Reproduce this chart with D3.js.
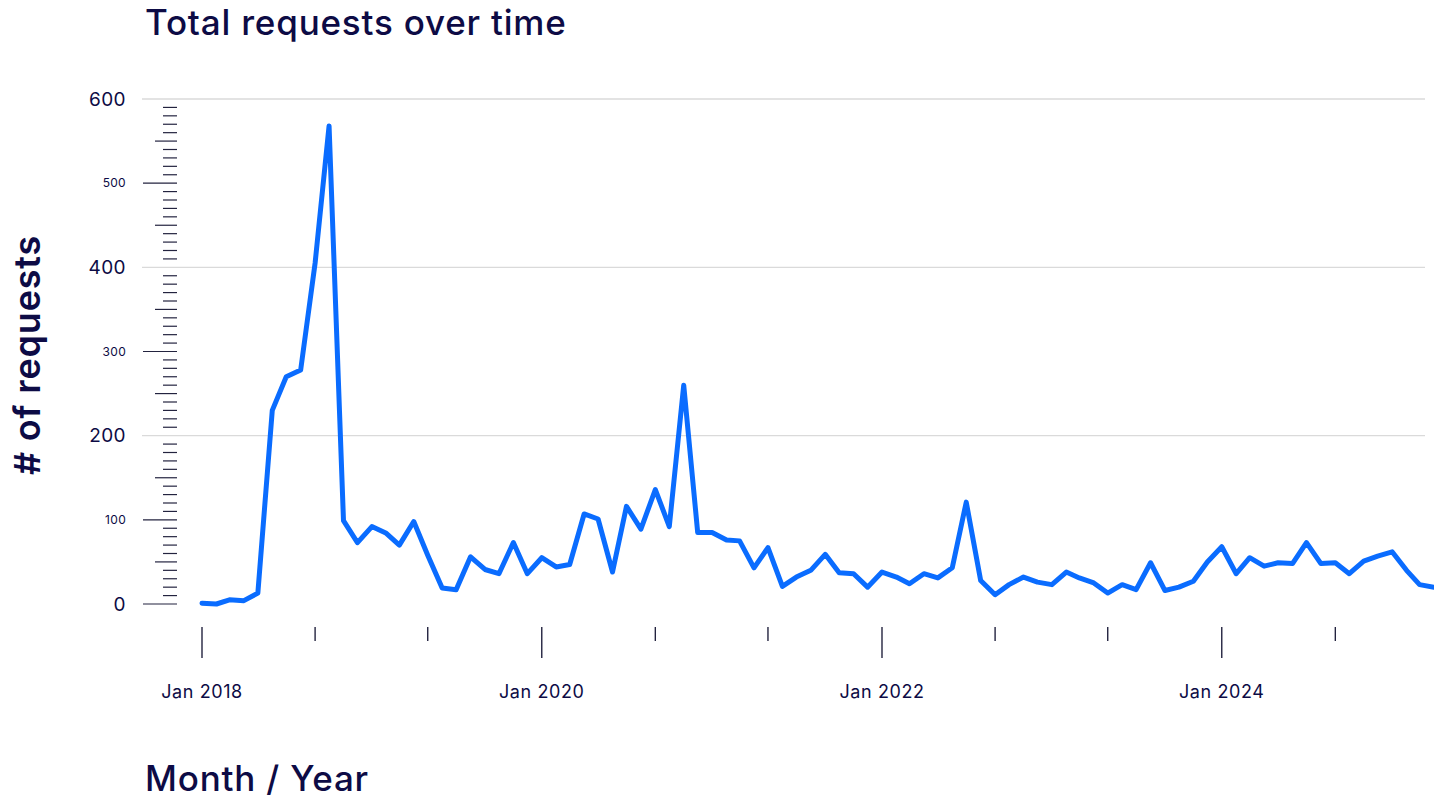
<!DOCTYPE html>
<html>
<head>
<meta charset="utf-8">
<script src="https://cdn.jsdelivr.net/npm/d3@7"></script>
<style>
  html, body { margin: 0; padding: 0; background: #fff; }
  svg { display: block; font-family: "Inter", "Lato", sans-serif; }
</style>
</head>
<body>
<div id="chart"></div>
<script>
// monthly request counts, one array per year
var requests2018 = [1, 0, 5, 4, 13, 230, 270, 278, 405, 568, 99, 73];
var requests2019 = [92, 84, 70, 98, 58, 19, 17, 56, 41, 36, 73, 36];
var requests2020 = [55, 44, 47, 107, 101, 38, 116, 89, 136, 92, 260, 85];
var requests2021 = [85, 76, 75, 43, 67, 21, 32, 40, 59, 37, 36, 20];
var requests2022 = [38, 32, 24, 36, 31, 43, 121, 28, 11, 23, 32, 26];
var requests2023 = [23, 38, 31, 25, 13, 23, 17, 49, 16, 20, 27, 50];
var requests2024 = [68, 36, 55, 45, 49, 48, 73, 48, 49, 36, 51, 57];
var requests2025 = [62, 40, 23, 20];

var years = [2018, 2019, 2020, 2021, 2022, 2023, 2024, 2025];
var yearValues = [requests2018, requests2019, requests2020, requests2021,
                  requests2022, requests2023, requests2024, requests2025];

var yBigLabels = [0, 200, 400, 600];
var ySmallLabels = [100, 300, 500];
var xLabelYears = [2018, 2020, 2022, 2024];

var width = 1434, height = 805;
var ink = "#0d0b45";

// flatten into {date, value}
var data = [];
years.forEach(function (yr, i) {
    yearValues[i].forEach(function (v, m) {
        data.push({date: new Date(yr, m, 1), value: v});
    });
});

var svg = d3.select("#chart").append("svg")
    .attr("width", width)
    .attr("height", height);

var x = d3.scaleTime()
    .domain([new Date(2018, 0, 1), new Date(2025, 3, 1)])
    .range([202, 1434]);

var y = d3.scaleLinear()
    .domain([0, 600])
    .range([604, 99]);

// titles
svg.append("text")
    .attr("x", 145)
    .attr("y", 35)
    .attr("fill", ink)
    .attr("font-size", "35px")
    .attr("font-weight", 500)
    .attr("letter-spacing", "0.8px")
    .text("Total requests over time");

svg.append("text")
    .attr("x", 145)
    .attr("y", 791)
    .attr("fill", ink)
    .attr("font-size", "35px")
    .attr("font-weight", 500)
    .attr("letter-spacing", "0.8px")
    .text("Month / Year");

svg.append("text")
    .attr("transform", "translate(40,355) rotate(-90)")
    .attr("fill", ink)
    .attr("font-size", "36px")
    .attr("font-weight", 600)
    .attr("letter-spacing", "0.8px")
    .style("text-anchor", "middle")
    .text("# of requests");

// y grid + ticks
var gY = svg.append("g").attr("class", "y-axis");
y.ticks(60).forEach(function (v) {
    if (v > 0 && v % 200 === 0) {
        gY.append("line")
            .attr("x1", 142).attr("x2", 1425)
            .attr("y1", y(v)).attr("y2", y(v))
            .attr("stroke", "#dadada")
            .attr("stroke-width", 1.3);
        return;
    }
    var x1 = 163;
    if (v % 100 === 0) x1 = 143;
    else if (v % 50 === 0) x1 = 155;
    gY.append("line")
        .attr("x1", x1).attr("x2", 177)
        .attr("y1", y(v)).attr("y2", y(v))
        .attr("stroke", "#23233f")
        .attr("stroke-width", 1.2);
});

gY.selectAll(".big").data(yBigLabels).enter().append("text")
    .attr("x", 126)
    .attr("y", function (d) { return y(d); })
    .attr("dy", "0.35em")
    .attr("fill", ink)
    .attr("font-size", "19px")
    .attr("letter-spacing", "0.4px")
    .style("text-anchor", "end")
    .text(function (d) { return d; });

gY.selectAll(".small").data(ySmallLabels).enter().append("text")
    .attr("x", 126)
    .attr("y", function (d) { return y(d); })
    .attr("dy", "0.35em")
    .attr("fill", ink)
    .attr("font-size", "12px")
    .attr("letter-spacing", "0.3px")
    .style("text-anchor", "end")
    .text(function (d) { return d; });

// x ticks every 8 months
var xTicks = d3.timeMonth.range(new Date(2018, 0, 1), new Date(2025, 3, 2), 8);
var gX = svg.append("g").attr("class", "x-axis");
xTicks.forEach(function (d) {
    var major = d.getMonth() === 0 && xLabelYears.indexOf(d.getFullYear()) >= 0;
    gX.append("line")
        .attr("x1", x(d)).attr("x2", x(d))
        .attr("y1", 627).attr("y2", major ? 658 : 641)
        .attr("stroke", "#23233f")
        .attr("stroke-width", 1.4);
    if (major) {
        gX.append("text")
            .attr("x", x(d))
            .attr("y", 698)
            .attr("fill", ink)
            .attr("font-size", "18px")
            .attr("letter-spacing", "0.6px")
            .style("text-anchor", "middle")
            .text(d3.timeFormat("%b %Y")(d));
    }
});

// line
var line = d3.line()
    .x(function (d) { return x(d.date); })
    .y(function (d) { return y(d.value); });

svg.append("path")
    .datum(data)
    .attr("d", line)
    .attr("fill", "none")
    .attr("stroke", "#0a6cff")
    .attr("stroke-width", 5)
    .attr("stroke-linejoin", "round")
    .attr("stroke-linecap", "round");
</script>
</body>
</html>
